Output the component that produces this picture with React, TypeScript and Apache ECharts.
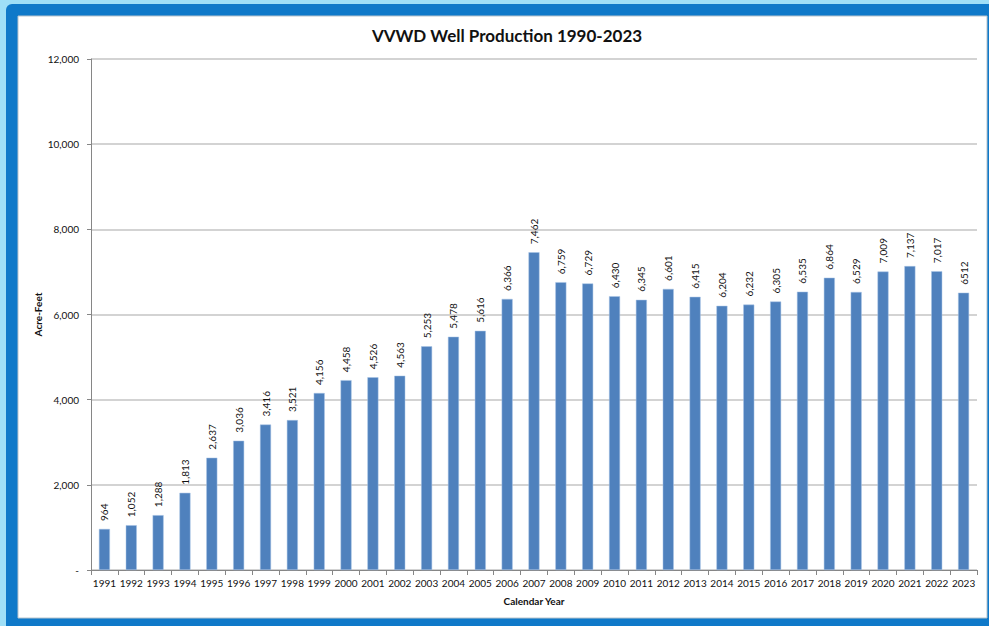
import React, { useEffect, useRef } from "react";
import * as echarts from "echarts";

const years = ["1991","1992","1993","1994","1995","1996","1997","1998","1999","2000","2001","2002","2003","2004","2005","2006","2007","2008","2009","2010","2011","2012","2013","2014","2015","2016","2017","2018","2019","2020","2021","2022","2023"];
const production = [964,1052,1288,1813,2637,3036,3416,3521,4156,4458,4526,4563,5253,5478,5616,6366,7462,6759,6729,6430,6345,6601,6415,6204,6232,6305,6535,6864,6529,7009,7137,7017,6512];
const valueLabels = ["964","1,052","1,288","1,813","2,637","3,036","3,416","3,521","4,156","4,458","4,526","4,563","5,253","5,478","5,616","6,366","7,462","6,759","6,729","6,430","6,345","6,601","6,415","6,204","6,232","6,305","6,535","6,864","6,529","7,009","7,137","7,017","6512"];

const FONT = "Lato, 'Open Sans', sans-serif";

export default function App() {
  const ref = useRef<HTMLDivElement>(null);
  useEffect(() => {
    if (!ref.current) return;
    const chart = echarts.init(ref.current, null, { renderer: "svg" });
    chart.setOption({
      animation: false,
      backgroundColor: "#9fdff7",
      graphic: [
        { type: "rect", shape: { x: 6, y: 4, width: 990, height: 630, r: 6 }, style: { fill: "#0f79c9" }, z: -10, silent: true },
        { type: "rect", shape: { x: 18, y: 16, width: 969, height: 602 }, style: { fill: "#ffffff", stroke: "#b8c4cc", lineWidth: 1 }, z: -9, silent: true },
      ],
      title: {
        text: "VVWD Well Production 1990-2023",
        left: 507,
        top: 24,
        textAlign: "center",
        textStyle: { fontFamily: FONT, fontWeight: "bold", fontSize: 17, color: "#111", lineHeight: 22 },
        padding: 0,
      },
      grid: { left: 91, right: 12, top: 59, bottom: 56, containLabel: false },
      xAxis: {
        type: "category",
        data: years,
        name: "Calendar Year",
        nameLocation: "middle",
        nameGap: 26,
        nameMoveOverlap: false,
        nameTextStyle: { fontFamily: FONT, fontWeight: "bold", fontSize: 10, color: "#111" },
        axisLine: { lineStyle: { color: "#868686", width: 1 } },
        axisTick: { show: true, alignWithLabel: false, length: 5, lineStyle: { color: "#868686" } },
        axisLabel: { fontFamily: FONT, fontSize: 10, color: "#111", margin: 8, interval: 0 },
      },
      yAxis: {
        type: "value",
        min: 0,
        max: 12000,
        interval: 2000,
        name: "Acre-Feet",
        nameLocation: "middle",
        nameGap: 48,
        nameMoveOverlap: false,
        nameRotate: 90,
        nameTextStyle: { fontFamily: FONT, fontWeight: "bold", fontSize: 10, color: "#111" },
        axisLine: { show: true, lineStyle: { color: "#868686", width: 1 } },
        axisTick: { show: true, length: 4, lineStyle: { color: "#868686" } },
        splitLine: { lineStyle: { color: "#c4c4c4", width: 1.5 } },
        axisLabel: {
          fontFamily: FONT,
          fontSize: 10,
          color: "#111",
          margin: 12,
          formatter: (v: number) => (v === 0 ? "-" : v.toLocaleString("en-US")),
        },
      },
      series: [
        {
          type: "bar",
          data: production,
          barWidth: "41%",
          itemStyle: { color: "#4f81bd", borderColor: "#a9c4e6", borderWidth: 0.5 },
          label: {
            show: true,
            position: "top",
            rotate: 90,
            align: "left",
            verticalAlign: "middle",
            distance: 8,
            fontFamily: FONT,
            fontSize: 10,
            color: "#111",
            formatter: (p: any) => valueLabels[p.dataIndex],
          },
        },
      ],
    });
    return () => chart.dispose();
  }, []);
  return <div ref={ref} style={{ position: "absolute", left: 0, top: 0, width: 989, height: 626 }} />;
}
